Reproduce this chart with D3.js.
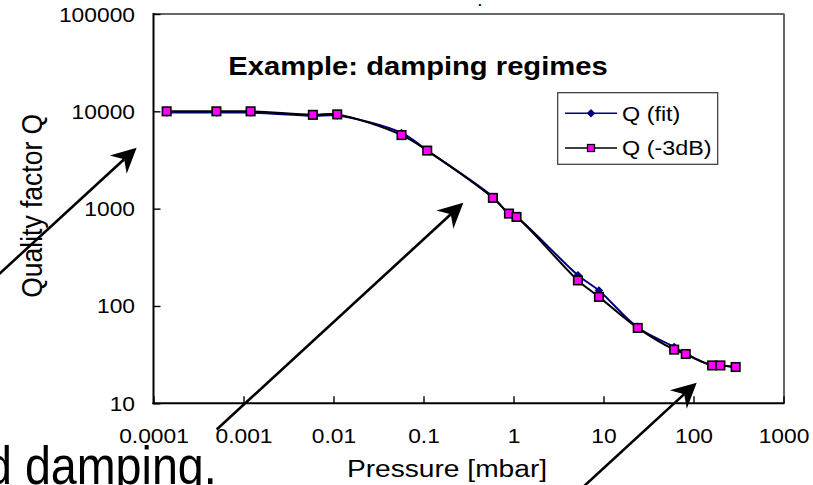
<!DOCTYPE html>
<html>
<head>
<meta charset="utf-8">
<script src="https://cdn.jsdelivr.net/npm/d3@7"></script>
<style>
  html, body { margin: 0; padding: 0; background: #fff; overflow: hidden; }
  svg { display: block; }
  text { font-family: "Liberation Sans", Arial, Helvetica, sans-serif; fill: #000; }
</style>
</head>
<body>
<svg id="chart" width="813" height="485"></svg>
<script>
// Pressure sweep of a resonator: quality factor from the fit and from the -3 dB width
const pressure = [0.00014, 0.0005, 0.0012, 0.0059, 0.011, 0.057, 0.11, 0.59, 0.89, 1.08,
                  5.2, 8.9, 24, 61, 82, 161, 199, 294];
const qFit  = [9700, 9700, 9700, 9000, 9050, 6000, 3950, 1320, 880, 820,
               207, 144, 60, 38, 32, 24.6, 24.5, 23.7];
const q3dB  = [10000, 10000, 10000, 9200, 9300, 5700, 3950, 1290, 890, 822,
               183, 124, 59.5, 35.6, 32.1, 24.5, 24.5, 23.6];

const seriesNames = ["Q (fit)", "Q (-3dB)"];
const xTickLabels = ["0.0001", "0.001", "0.01", "0.1", "1", "10", "100", "1000"];
const yTickLabels = ["10", "100", "1000", "10000", "100000"];

// Annotation arrows given in data units [pressure, Q] : tail -> head
const arrowTails = [[1.52e-6, 174], [5.04e-4, 5.39], [5.48, 1.29]];
const arrowHeads = [[6.5e-5, 4227], [0.277, 1150], [108.6, 16.3]];

const plotLeft = 153.5, plotRight = 783.5, plotTop = 14, plotBottom = 403.3;
const SX = 1.14; // horizontal glyph stretch of the chart lettering

const svg = d3.select("#chart");

const x = d3.scaleLog().domain([1e-4, 1e3]).range([plotLeft, plotRight]);
const y = d3.scaleLog().domain([10, 1e5]).range([plotBottom, plotTop]);

const isDecade = d => Math.abs(Math.log10(d) - Math.round(Math.log10(d))) < 1e-9;
const xAll = x.ticks(), yAll = y.ticks();
const xMajor = xAll.filter(isDecade), xMinor = xAll.filter(d => !isDecade(d));
const yMajor = yAll.filter(isDecade), yMinor = yAll.filter(d => !isDecade(d));

// plot frame: top / right edges
svg.append("line").attr("x1", plotLeft).attr("x2", plotRight + 1).attr("y1", plotTop).attr("y2", plotTop)
  .attr("stroke", "#333").attr("stroke-width", 1.6);
svg.append("line").attr("x1", plotRight + 0.5).attr("x2", plotRight + 0.5).attr("y1", plotTop).attr("y2", plotBottom)
  .attr("stroke", "#666").attr("stroke-width", 2);

// bottom axis
const gx = svg.append("g").attr("transform", `translate(0,${plotBottom})`);
gx.call(d3.axisBottom(x).tickValues(xMinor).tickSize(-5).tickFormat(""));
gx.call(d3.axisBottom(x).tickValues(xMajor).tickSize(-7)
  .tickFormat((d, i) => xTickLabels[i]));
gx.selectAll(".domain").remove();
gx.attr("font-size", null).attr("font-family", null);
gx.selectAll(".tick line").attr("stroke", "#000").attr("stroke-width", 1.4);
gx.selectAll(".tick text")
  .attr("y", 40).attr("dy", null)
  .attr("transform", `scale(${SX},1)`)
  .style("font-size", "20px");

// left axis
const gy = svg.append("g").attr("transform", `translate(${plotLeft},0)`);
gy.call(d3.axisLeft(y).tickValues(yMinor).tickSize(-5.5).tickFormat(""));
gy.call(d3.axisLeft(y).tickValues(yMajor).tickSize(-7)
  .tickFormat((d, i) => yTickLabels[i]));
gy.selectAll(".domain").remove();
gy.attr("font-size", null).attr("font-family", null);
gy.selectAll(".tick line").attr("stroke", "#000").attr("stroke-width", 1.4);
gy.selectAll(".tick text")
  .attr("x", -18.5 / SX).attr("y", 7).attr("dy", null)
  .attr("transform", `scale(${SX},1)`)
  .style("font-size", "20px");

// axis lines
svg.append("line").attr("x1", plotLeft).attr("x2", plotLeft).attr("y1", plotTop - 1).attr("y2", plotBottom + 1)
  .attr("stroke", "#000").attr("stroke-width", 2);
svg.append("line").attr("x1", plotLeft - 1).attr("x2", plotRight + 1).attr("y1", plotBottom).attr("y2", plotBottom)
  .attr("stroke", "#000").attr("stroke-width", 2);

// helper for stretched text
function label(txt, px, py, size, opts = {}) {
  return svg.append("text")
    .attr("transform", `translate(${px},${py}) scale(${opts.sx ?? SX},1)` + (opts.rot ? ` rotate(${opts.rot})` : ""))
    .attr("text-anchor", opts.anchor || "middle")
    .style("font-size", size + "px")
    .style("font-weight", opts.bold ? "bold" : "normal")
    .text(txt);
}

// series
const fitData = pressure.map((p, i) => [p, qFit[i]]);
const dbData = pressure.map((p, i) => [p, q3dB[i]]);
const line = d3.line().x(d => x(d[0])).y(d => y(d[1])).curve(d3.curveCatmullRom.alpha(0.5));

const diamond = d3.symbol().type(d3.symbolDiamond2).size(46);

svg.append("path").attr("d", line(fitData)).attr("fill", "none")
  .attr("stroke", "#000080").attr("stroke-width", 2);
svg.append("g").selectAll("path").data(fitData).join("path")
  .attr("transform", d => `translate(${x(d[0])},${y(d[1])})`)
  .attr("d", diamond).attr("fill", "#000080");

svg.append("path").attr("d", line(dbData)).attr("fill", "none")
  .attr("stroke", "#000").attr("stroke-width", 2);
const sq = 8.5;
svg.append("g").selectAll("rect").data(dbData).join("rect")
  .attr("x", d => x(d[0]) - sq / 2).attr("y", d => y(d[1]) - sq / 2)
  .attr("width", sq).attr("height", sq)
  .attr("fill", "#ff00ff").attr("stroke", "#000").attr("stroke-width", 1.6);

// legend
const lg = svg.append("g");
lg.append("rect").attr("x", 557.7).attr("y", 92.7).attr("width", 160).attr("height", 71.6)
  .attr("fill", "#fff").attr("stroke", "#333").attr("stroke-width", 1.2);
const rows = [113.3, 148];
lg.append("line").attr("x1", 565).attr("x2", 617).attr("y1", rows[0]).attr("y2", rows[0])
  .attr("stroke", "#000080").attr("stroke-width", 1.6);
lg.append("path").attr("transform", `translate(591,${rows[0]})`).attr("d", diamond).attr("fill", "#000080");
lg.append("line").attr("x1", 565).attr("x2", 617).attr("y1", rows[1]).attr("y2", rows[1])
  .attr("stroke", "#000").attr("stroke-width", 1.6);
lg.append("rect").attr("x", 591 - 3.5).attr("y", rows[1] - 3.5).attr("width", 7).attr("height", 7)
  .attr("fill", "#ff00ff").attr("stroke", "#000").attr("stroke-width", 1.3);
label(seriesNames[0], 622, 120.5, 20.5, { anchor: "start" });
label(seriesNames[1], 622, 155.2, 20.5, { anchor: "start" });

// titles
label("Example: damping regimes", 418, 75, 25.6, { bold: true });
label("Pressure [mbar]", 447, 477.3, 24.7);
label("Quality factor Q", 41.7, 205.8, 26.5, { rot: -90 });
label(".", 480, 6, 12, { bold: true });

// arrows
function arrow(t, h) {
  const x1 = x(t[0]), y1 = y(t[1]), x2 = x(h[0]), y2 = y(h[1]);
  const a = Math.atan2(y2 - y1, x2 - x1);
  const L = 25, hw = 12.5, notch = 17;
  const ux = Math.cos(a), uy = Math.sin(a), nx = -uy, ny = ux;
  const bx = x2 - ux * L, by = y2 - uy * L;
  const mx = x2 - ux * notch, my = y2 - uy * notch;
  svg.append("line").attr("x1", x1).attr("y1", y1).attr("x2", mx).attr("y2", my)
    .attr("stroke", "#000").attr("stroke-width", 2.6);
  svg.append("path")
    .attr("d", `M${x2},${y2} L${bx + nx * hw},${by + ny * hw} L${mx},${my} L${bx - nx * hw},${by - ny * hw} Z`)
    .attr("fill", "#000");
}
arrowTails.forEach((t, i) => arrow(t, arrowHeads[i]));

// slide caption running under the chart
label("d damping.", -14, 484, 53, { anchor: "start", sx: 0.88 });
</script>
</body>
</html>
